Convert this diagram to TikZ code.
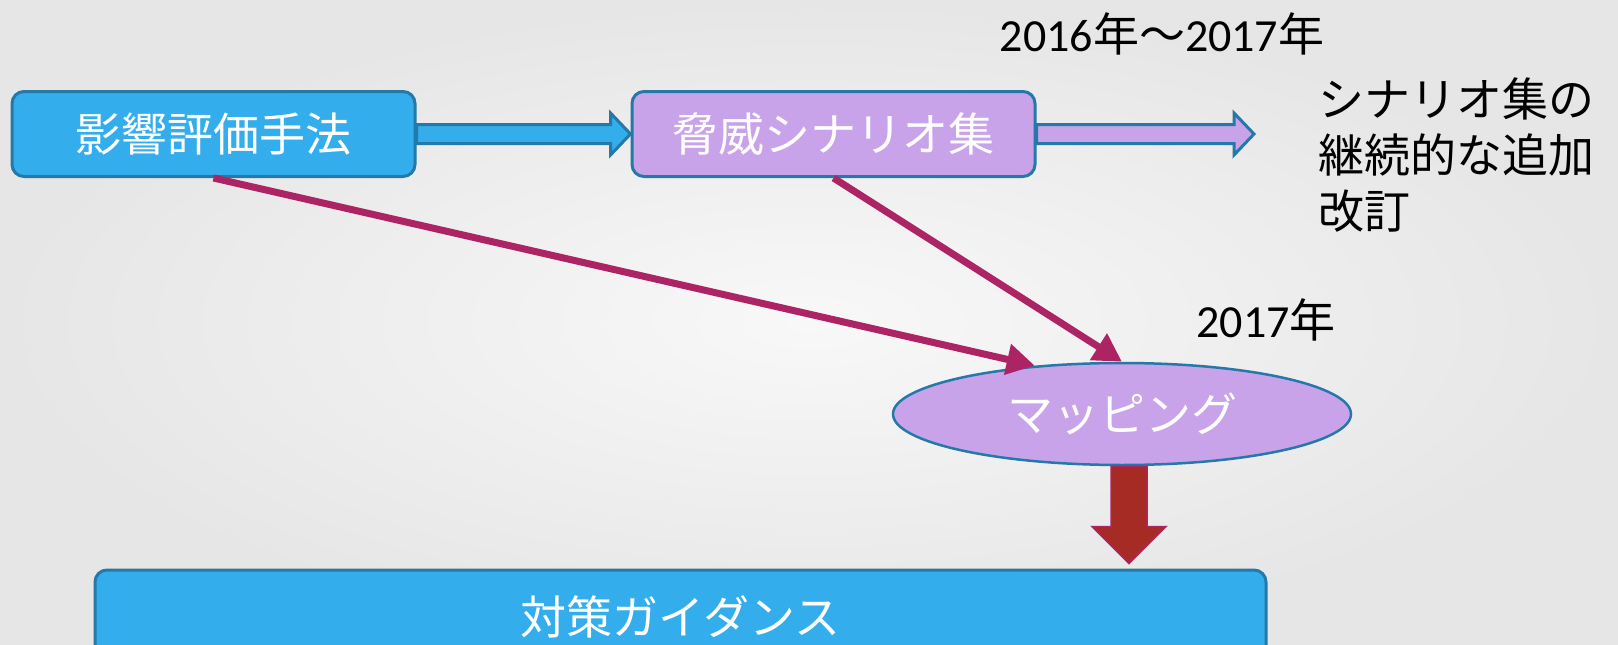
\documentclass[tikz,border=0pt]{standalone}
\usepackage{fontspec}
\setmainfont{Carlito}
\newfontfamily\jp{Noto Sans CJK JP}
\usetikzlibrary{calc,shapes.geometric,arrows.meta}
\definecolor{bluefill}{HTML}{33ADEB}
\definecolor{blueedge}{HTML}{2479A9}
\definecolor{lav}{HTML}{C9A3EA}
\definecolor{mag}{HTML}{AD2464}
\definecolor{brick}{HTML}{A62B24}
\definecolor{bgin}{HTML}{F8F8F8}
\definecolor{bgout}{HTML}{E6E6E6}
\begin{document}
\begin{tikzpicture}[x=1pt,y=-1pt,
  boxbase/.style={draw=blueedge, line width=3pt, rounded corners=12pt, inner sep=0pt,
    font=\jp\fontsize{46}{56}\selectfont, text=white},
  bluebox/.style={boxbase, fill=bluefill},
  lavbox/.style={boxbase, fill=lav},
  blockarrow/.style={draw=blueedge, line width=3pt, line join=miter},
  magline/.style={draw=mag, line width=7pt, -{Triangle[length=28pt,width=30pt]}},
  label/.style={font=\fontsize{46}{56}\selectfont, text=black, inner sep=0pt}]
\useasboundingbox (0,0) rectangle (1618,645);
\clip (0,0) rectangle (1618,645);
\shade[inner color=bgin, outer color=bgout] (0,0) rectangle (1618,645);

% nodes
\node[bluebox, minimum width=403pt, minimum height=85pt] (b1) at (213.5,134) {影響評価手法};
\node[lavbox, minimum width=403pt, minimum height=85pt] (b2) at (833.5,134) {脅威シナリオ集};
\node[ellipse, draw=blueedge, line width=2.5pt, fill=lav, minimum width=458pt, minimum height=102pt,
  inner sep=0pt, font=\jp\fontsize{46}{56}\selectfont, text=white] (map) at (1122,414) {マッピング};
\node[bluebox, minimum width=1171pt, minimum height=94pt] (guide) at (680.5,617) {対策ガイダンス};
\coordinate (e2) at (1254,134);

% labels
\node[label] (t1) at (1162,34) {2016{\jp 年～}2017{\jp 年}};
\node[label, anchor=west, align=left, font=\jp\fontsize{46}{56}\selectfont] (t2) at (1318,155)
  {シナリオ集の\\継続的な追加\\改訂};
\node[label] (t3) at (1266,320) {2017{\jp 年}};

% block arrow b1 -> b2
\filldraw[blockarrow, fill=bluefill]
  ($(b1.east)+(0,-9.5)$) -- ($(b2.west)+(-20,-9.5)$) -- ($(b2.west)+(-20,-21)$) -- (b2.west)
  -- ($(b2.west)+(-20,21)$) -- ($(b2.west)+(-20,9.5)$) -- ($(b1.east)+(0,9.5)$) -- cycle;
% block arrow b2 -> e2
\filldraw[blockarrow, fill=lav]
  ($(b2.east)+(0,-9.5)$) -- ($(e2)+(-20,-9.5)$) -- ($(e2)+(-20,-21)$) -- (e2)
  -- ($(e2)+(-20,21)$) -- ($(e2)+(-20,9.5)$) -- ($(b2.east)+(0,9.5)$) -- cycle;

% magenta arrows
\draw[magline] (b1.south) -- (map.151);
\draw[magline] (b2.south) -- (map.north);

% red down arrow
\coordinate (rtop) at ($(map.south)+(7,0)$);
\coordinate (rtip) at ($(guide.north -| rtop)+(0,-5)$);
\filldraw[draw=mag, line width=1.5pt, fill=brick, line join=miter]
  ($(rtop)+(-18,0)$) -- ($(rtip)+(-18,-37)$) -- ($(rtip)+(-37,-37)$) -- (rtip)
  -- ($(rtip)+(37,-37)$) -- ($(rtip)+(18,-37)$) -- ($(rtop)+(18,0)$) -- cycle;
\end{tikzpicture}
\end{document}
